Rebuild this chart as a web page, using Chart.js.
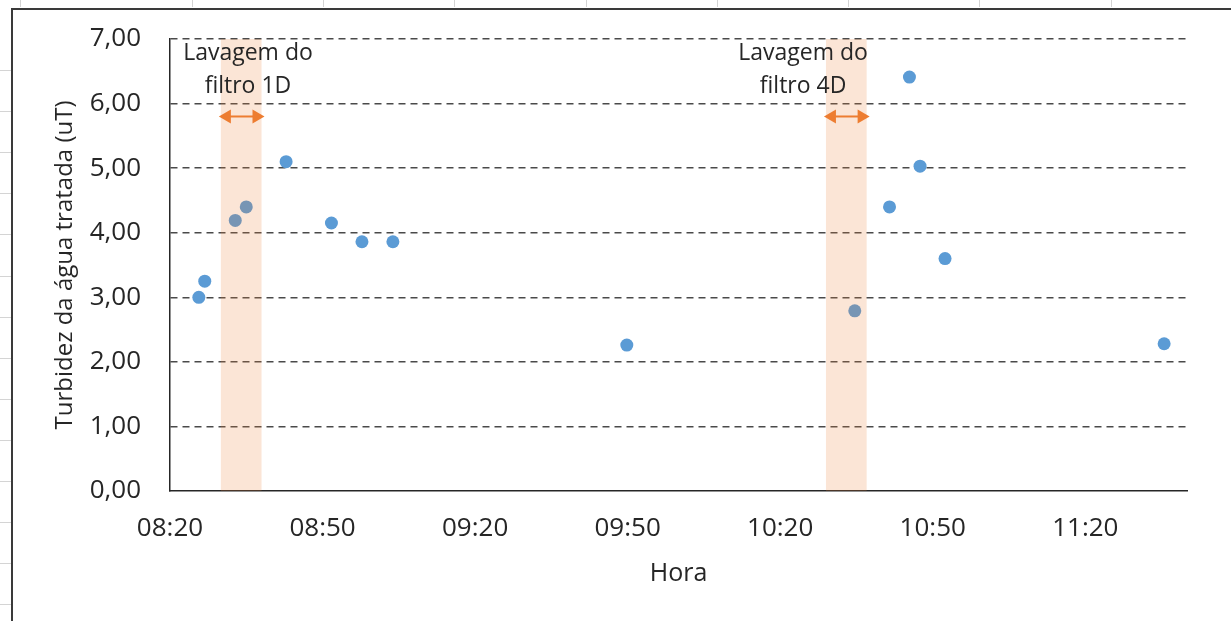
<!DOCTYPE html>
<html>
<head>
<meta charset="utf-8">
<script src="https://cdn.jsdelivr.net/npm/chart.js@4.4.1/dist/chart.umd.min.js"></script>
<style>
  html, body { margin: 0; padding: 0; background: #ffffff; }
  #wrap { width: 1231px; height: 621px; }
</style>
</head>
<body>
<div id="wrap"><canvas id="c" width="1231" height="621"></canvas></div>
<script>
// ---- data ----
const sampleTimes = ["08:25:40", "08:26:50", "08:32:50", "08:35:00", "08:42:50", "08:51:45",
                     "08:57:45", "09:03:50", "09:49:50", "10:34:40", "10:41:30", "10:45:25",
                     "10:47:30", "10:52:25", "11:35:30"];
const turbidity = [3.00, 3.25, 4.19, 4.40, 5.10, 4.15, 3.86, 3.86, 2.26, 2.79, 4.40, 6.41, 5.03, 3.60, 2.28];
const xTickLabels = ["08:20", "08:50", "09:20", "09:50", "10:20", "10:50", "11:20"];
const xRange = ["08:20", "11:40"];
const yTickValues = [0, 1, 2, 3, 4, 5, 6, 7];
const washStart = ["08:30", "10:29"];
const washEnd = ["08:38", "10:37"];
const washLabels = [["Lavagem do", "filtro 1D"], ["Lavagem do", "filtro 4D"]];
const washLabelCenter = ["08:35:20", "10:24:30"];
const washLabelY = [6.78, 6.27];
const washArrowY = 5.80;

function toMin(s) {
  const p = s.split(":").map(Number);
  return p[0] * 60 + p[1] + (p[2] || 0) / 60;
}
function fmtTime(v) {
  const h = Math.floor(v / 60), m = Math.round(v - h * 60);
  return String(h).padStart(2, "0") + ":" + String(m).padStart(2, "0");
}

const points = sampleTimes.map((t, i) => ({ x: toMin(t), y: turbidity[i] }));
const FONT = "'Open Sans', 'Noto Sans', sans-serif";
const TEXT = "#262626";

const decorPlugin = {
  id: "decor",
  beforeDraw(chart) {
    const ctx = chart.ctx;
    ctx.save();
    ctx.fillStyle = "#ffffff";
    ctx.fillRect(0, 0, chart.width, chart.height);
    // faint spreadsheet cell lines outside the chart object
    ctx.strokeStyle = "#d4d4d4";
    ctx.lineWidth = 1;
    [20, 192, 323, 454, 586, 717, 848, 979, 1111].forEach(x => {
      ctx.beginPath(); ctx.moveTo(x + 0.5, 0); ctx.lineTo(x + 0.5, 7); ctx.stroke();
    });
    for (let y = 70; y < 621; y += 41.1) {
      ctx.beginPath(); ctx.moveTo(0, Math.round(y) + 0.5); ctx.lineTo(11, Math.round(y) + 0.5); ctx.stroke();
    }
    // chart object frame
    ctx.strokeStyle = "#3a3a3a";
    ctx.lineWidth = 2;
    ctx.beginPath();
    ctx.moveTo(12, 621); ctx.lineTo(12, 9); ctx.lineTo(1231, 9);
    ctx.stroke();
    ctx.restore();
  },
  afterDatasetsDraw(chart) {
    const ctx = chart.ctx;
    const xs = chart.scales.x, ys = chart.scales.y;
    ctx.save();
    washStart.forEach((s, i) => {
      const x0 = xs.getPixelForValue(toMin(s));
      const x1 = xs.getPixelForValue(toMin(washEnd[i]));
      ctx.fillStyle = "rgba(237,125,49,0.2)";
      ctx.fillRect(x0, ys.getPixelForValue(7), x1 - x0, ys.getPixelForValue(0) - ys.getPixelForValue(7));
      // double-headed arrow
      const ay = ys.getPixelForValue(washArrowY);
      const a0 = x0 - 2, a1 = x1 + 3, hl = 12, hh = 7;
      ctx.strokeStyle = "#ED7D31";
      ctx.fillStyle = "#ED7D31";
      ctx.lineWidth = 2;
      ctx.beginPath(); ctx.moveTo(a0 + hl - 2, ay); ctx.lineTo(a1 - hl + 2, ay); ctx.stroke();
      ctx.beginPath(); ctx.moveTo(a0, ay); ctx.lineTo(a0 + hl, ay - hh); ctx.lineTo(a0 + hl, ay + hh); ctx.closePath(); ctx.fill();
      ctx.beginPath(); ctx.moveTo(a1, ay); ctx.lineTo(a1 - hl, ay - hh); ctx.lineTo(a1 - hl, ay + hh); ctx.closePath(); ctx.fill();
      // label
      ctx.fillStyle = TEXT;
      ctx.font = "23px " + FONT;
      ctx.textAlign = "center";
      ctx.textBaseline = "middle";
      const cx = xs.getPixelForValue(toMin(washLabelCenter[i]));
      washLabels[i].forEach((line, k) => {
        ctx.fillText(line, cx, ys.getPixelForValue(washLabelY[k]));
      });
    });
    ctx.restore();
  }
};

new Chart(document.getElementById("c"), {
  type: "scatter",
  data: {
    datasets: [{
      label: "Turbidez",
      data: points,
      backgroundColor: "#5B9BD5",
      borderColor: "#5B9BD5",
      pointRadius: 6.5,
      pointHoverRadius: 6.5,
      borderWidth: 0
    }]
  },
  options: {
    responsive: false,
    animation: false,
    events: [],
    layout: { padding: { left: 0, right: 44, top: 39, bottom: 0 } },
    plugins: {
      legend: { display: false },
      tooltip: { enabled: false }
    },
    scales: {
      x: {
        type: "linear",
        min: toMin(xRange[0]),
        max: toMin(xRange[1]),
        afterBuildTicks(scale) {
          scale.ticks = xTickLabels.map(t => ({ value: toMin(t) }));
        },
        afterFit(scale) { scale.height = 130; scale.paddingLeft = 0; scale.paddingRight = 0; },
        grid: { display: false, drawTicks: false },
        border: { display: true, color: "#262626", width: 1.5 },
        ticks: {
          padding: 22,
          color: TEXT,
          font: { family: FONT, size: 26 },
          maxRotation: 0,
          callback: v => fmtTime(v)
        },
        title: {
          display: true,
          text: "Hora",
          color: TEXT,
          font: { family: FONT, size: 25 },
          padding: { top: 0, bottom: 32 }
        }
      },
      y: {
        min: 0,
        max: 7,
        afterBuildTicks(scale) {
          scale.ticks = yTickValues.map(v => ({ value: v }));
        },
        afterFit(scale) { scale.width = 170; scale.paddingTop = 0; scale.paddingBottom = 0; },
        grid: {
          drawTicks: false,
          lineWidth: 1.5,
          color: ctx => (ctx.tick && ctx.tick.value === 0) ? "rgba(0,0,0,0)" : "#4a4a4a"
        },
        border: { display: true, color: "#262626", width: 1.5, dash: [7, 5] },
        ticks: {
          padding: 29,
          color: TEXT,
          font: { family: FONT, size: 26 },
          callback: v => v.toFixed(2).replace(".", ",")
        },
        title: {
          display: true,
          text: "Turbidez da água tratada (uT)",
          color: TEXT,
          font: { family: FONT, size: 24 },
          padding: { top: 51, bottom: 0 }
        }
      }
    }
  },
  plugins: [decorPlugin]
});
</script>
</body>
</html>
